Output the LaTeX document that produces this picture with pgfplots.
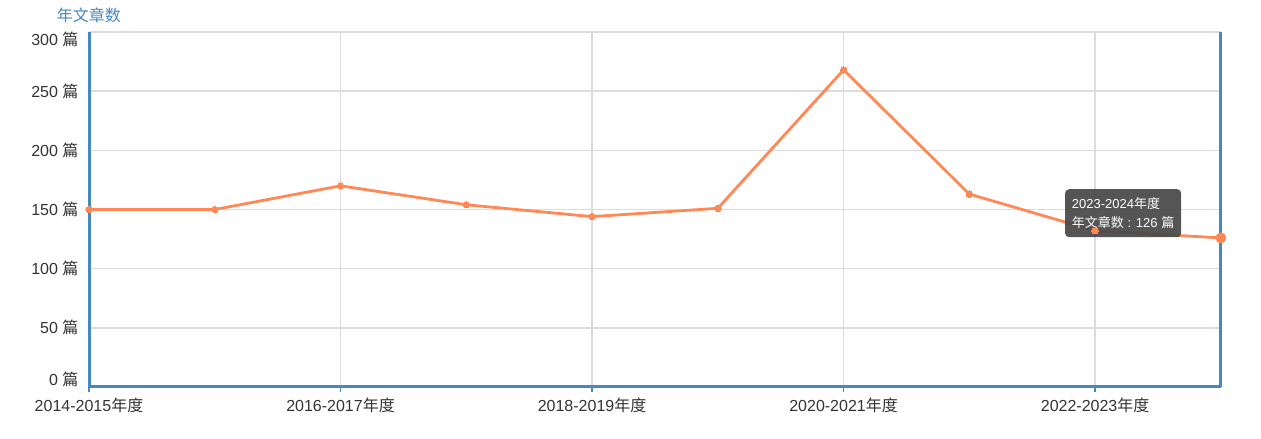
\documentclass[border=0pt]{standalone}
\usepackage{pgfplots}
\pgfplotsset{compat=1.18}
\usepackage{fontspec}
\setmainfont{Liberation Sans}
\newfontfamily\cjk{Noto Sans CJK SC}
\newcommand{\zh}[1]{{\cjk #1}}
\newcommand{\rb}[2]{\raisebox{#1}[\height][\depth]{#2}}
\definecolor{lineor}{RGB}{255,136,86}
\definecolor{axblue}{RGB}{70,136,196}
\definecolor{gridgray}{RGB}{220,220,220}
\definecolor{txt}{RGB}{51,51,51}
\begin{document}
\begin{tikzpicture}[x=1pt,y=1pt]
\useasboundingbox (0,0) rectangle (1261,439);
\begin{axis}[
  at={(89pt,52pt)}, anchor=south west,
  scale only axis, width=1132pt, height=355pt,
  xmin=0, xmax=9, ymin=0, ymax=300,
  clip=false,
  xtick={0,2,4,6,8},
  xticklabels={2014-2015\zh{年度},2016-2017\zh{年度},2018-2019\zh{年度},2020-2021\zh{年度},2022-2023\zh{年度}},
  ytick={0,50,100,150,200,250,300},
  yticklabels={\rb{8pt}{0 \zh{篇}},50 \zh{篇},100 \zh{篇},150 \zh{篇},200 \zh{篇},250 \zh{篇},\rb{-7pt}{300 \zh{篇}}},
  grid=major,
  major grid style={gridgray, line width=1.4pt},
  axis line style={draw=none},
  xtick pos=bottom, tick align=outside,
  major tick length=5pt,
  xtick style={axblue, line width=1.3pt},
  ytick style={draw=none},
  ticklabel style={font=\fontsize{16}{19}\selectfont, text=txt},
  xticklabel style={yshift=-2pt},
  yticklabel style={xshift=-2pt},
]
\draw[axblue, line width=3pt] (rel axis cs:0,0) -- (rel axis cs:0,1);
\draw[axblue, line width=3pt] (rel axis cs:1,0) -- (rel axis cs:1,1);
\draw[axblue, line width=3pt] (rel axis cs:0,0) -- (rel axis cs:1,0);
\addplot[lineor, line width=2.8pt, mark=*, mark size=3.2pt, mark options={fill=lineor, draw=lineor, line width=0pt}]
  coordinates {(0,150)(1,150)(2,170)(3,154)(4,144)(5,151)(6,268)(7,163)(8,132)(9,126)};
\addplot[only marks, mark=*, mark size=5.2pt, mark options={fill=lineor, draw=lineor}]
  coordinates {(9,126)};
\node[anchor=north west, fill=black!72, fill opacity=0.92, text opacity=1, text=white,
      rounded corners=4pt, inner xsep=6pt, inner ysep=5pt, align=left,
      font=\fontsize{13}{19}\selectfont, minimum width=116pt, minimum height=48pt]
  at (axis cs:7.76,167.3) {2023-2024\zh{年度}\\\zh{年文章数} : 126 \zh{篇}};
\node[text=axblue, font=\fontsize{16}{19}\selectfont] at ([yshift=17pt]rel axis cs:0,1) {\zh{年文章数}};
\end{axis}
\end{tikzpicture}
\end{document}
